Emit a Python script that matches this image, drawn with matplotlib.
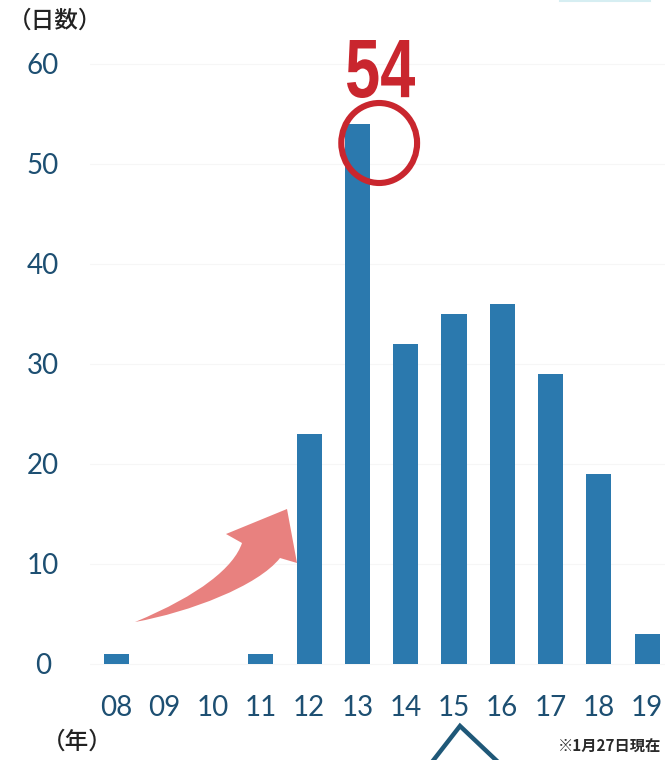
import matplotlib
matplotlib.use("Agg")
import matplotlib.pyplot as plt
from matplotlib.patches import Ellipse, PathPatch
from matplotlib.path import Path
from matplotlib.lines import Line2D
from matplotlib.textpath import TextPath
from matplotlib.font_manager import FontProperties
from matplotlib.transforms import Affine2D, IdentityTransform

years = ["08", "09", "10", "11", "12", "13", "14", "15", "16", "17", "18", "19"]
days = [1, 0, 0, 1, 23, 54, 32, 35, 36, 29, 19, 3]
y_ticks = [0, 10, 20, 30, 40, 50, 60]
peak_label = "54"

W, H = 665, 760
fig = plt.figure(figsize=(W / 100, H / 100), dpi=100)
ax = fig.add_axes([90 / W, 1 - 680 / H, (665 - 90) / W, (680 - 40) / H])

bar_color = "#2b79ae"
tick_color = "#1d4f72"
red = "#c9262e"

x = list(range(len(years)))
ax.bar(x, days, width=0.52, color=bar_color, zorder=3)

ax.set_xlim(-0.54, 11.37)
ax.set_ylim(-1.6, 62.4)
ax.set_yticks(y_ticks)
ax.set_yticklabels([str(v) for v in y_ticks], fontfamily="Lato", fontsize=20,
                   color=tick_color, ha="center")
ax.set_xticks(x)
ax.set_xticklabels(years, fontfamily="Lato", fontsize=20, color=tick_color)
ax.tick_params(axis="y", length=0, pad=34)
ax.tick_params(axis="x", length=0, pad=11)
for s in ax.spines.values():
    s.set_visible(False)
ax.grid(axis="y", color="#f6f6f6", lw=0.8, zorder=0)
ax.set_axisbelow(True)


def px(xp, yp):
    """Pixel position measured from the top-left corner -> figure fraction."""
    return (xp / W, 1 - yp / H)


# circle around the peak bar
peak_i = days.index(max(days))
ax.add_patch(Ellipse((peak_i + 0.45, 52.1), 1.57, 8.0, fill=False,
                     edgecolor=red, lw=4.4, zorder=5))

# condensed bold value label above the circle
tp = TextPath((0, 0), peak_label, size=100,
              prop=FontProperties(family="Liberation Sans", weight="bold"))
ext = tp.get_extents()
left, right, top, bottom = 347, 415, 40, 98
sx = (right - left) / ext.width
sy = (bottom - top) / ext.height
tr = (Affine2D().translate(-ext.x0, -ext.y0).scale(sx, sy)
      .translate(left, H - bottom) + IdentityTransform())
fig.patches.append(PathPatch(tp, facecolor=red, edgecolor="none",
                             transform=tr, zorder=6))

# curved pink arrow rising toward the 2012 bar
verts = [
    px(135, 622),                                   # tail tip
    px(190, 612), px(258, 586), px(280, 558),       # lower edge to inner notch
    px(297, 563),                                   # right wing
    px(287, 509),                                   # head tip
    px(226, 534),                                   # left wing
    px(242, 543),                                   # inner notch
    px(234, 567), px(200, 595), px(135, 622),       # upper edge back to tail
    px(135, 622),
]
codes = [Path.MOVETO,
         Path.CURVE4, Path.CURVE4, Path.CURVE4,
         Path.LINETO, Path.LINETO, Path.LINETO, Path.LINETO,
         Path.CURVE4, Path.CURVE4, Path.CURVE4,
         Path.CLOSEPOLY]
fig.patches.append(PathPatch(Path(verts, codes), facecolor="#e8817f",
                             edgecolor="none", transform=fig.transFigure,
                             zorder=1))

# chevron at the bottom edge
cx, cy = zip(px(432, 762), px(460, 726), px(498, 762))
fig.add_artist(Line2D(cx, cy, color="#1f5878", lw=3.2,
                      solid_joinstyle="miter", transform=fig.transFigure))

# faint rule at the top right
tx, ty = zip(px(560, 1), px(650, 1))
fig.add_artist(Line2D(tx, ty, color="#d6eef2", lw=1.5, transform=fig.transFigure))

jp = ["Noto Sans CJK JP", "DejaVu Sans"]
fig.text(8 / W, 1 - 21 / H, "（日数）", fontfamily=jp, fontsize=17,
         fontweight="medium", color="#222222", ha="left", va="center")
fig.text(42 / W, 1 - 742 / H, "（年）", fontfamily=jp, fontsize=17,
         fontweight="medium", color="#222222", ha="left", va="center")
fig.text(661 / W, 1 - 747 / H, "※1月27日現在", fontfamily=jp, fontsize=11,
         fontweight="bold", color="#2a2a2a", ha="right", va="center")

fig.savefig("out.png", dpi=100)
